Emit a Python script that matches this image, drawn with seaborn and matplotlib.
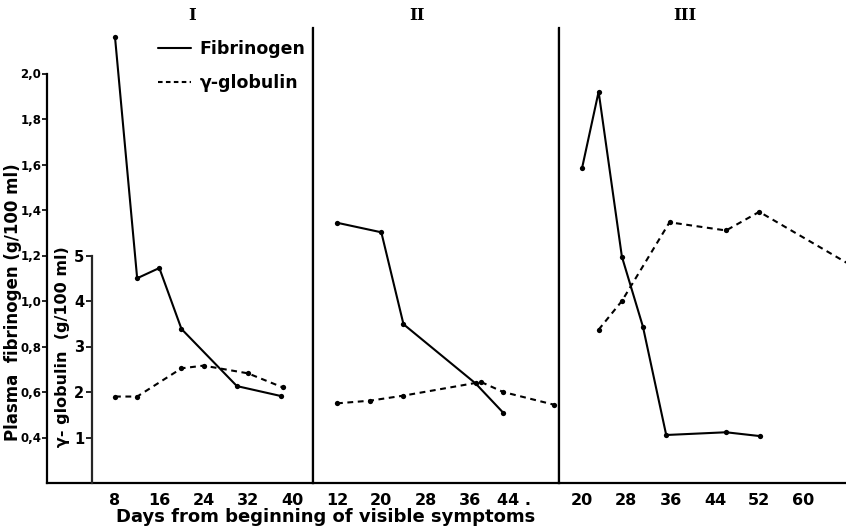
## fibrinogen and gamma-globulin over three cases ##

import matplotlib
matplotlib.use("Agg")
import matplotlib.pyplot as plt
from matplotlib.lines import Line2D
import seaborn as sns

# case I
days_fib_1 = [8, 12, 16, 20, 30, 38]
fib_1 = [2.16, 1.10, 1.145, 0.877, 0.626, 0.582]
days_gam_1 = [8, 12, 20, 24, 32, 38.3]
gam_1 = [1.90, 1.90, 2.52, 2.58, 2.41, 2.10]

# case II
days_fib_2 = [12, 20, 24, 37, 42]
fib_2 = [1.344, 1.302, 0.898, 0.638, 0.509]
days_gam_2 = [12, 18, 24, 38, 42, 51.2]
gam_2 = [1.75, 1.81, 1.92, 2.22, 2.00, 1.72]

# case III
days_fib_3 = [20, 23, 27.2, 31, 35.2, 46, 52.2]
fib_3 = [1.583, 1.92, 1.195, 0.887, 0.411, 0.423, 0.406]
days_gam_3 = [23, 27.2, 35.8, 46, 52, 72]
gam_3 = [3.37, 4.00, 5.73, 5.55, 5.96, 4.54]

panel_names = ["I", "II", "III"]
xticks_1 = [8, 16, 24, 32, 40]
xticks_2 = [12, 20, 28, 36, 44]
xticklabels_2 = ["12", "20", "28", "36", "44 ."]
xticks_3 = [20, 28, 36, 44, 52, 60]
fib_ticks = [0.4, 0.6, 0.8, 1.0, 1.2, 1.4, 1.6, 1.8, 2.0]
fib_labels = ["0,4", "0,6", "0,8", "1,0", "1,2", "1,4", "1,6", "1,8", "2,0"]
gam_ticks = [1, 2, 3, 4, 5]

sns.set_style("ticks")
plt.rcParams["font.family"] = ["DejaVu Sans"]
plt.rcParams["font.weight"] = "bold"
for k in ["text.color", "axes.labelcolor", "xtick.color", "ytick.color"]:
    plt.rcParams[k] = "black"

W, H = 846, 529
fig = plt.figure(figsize=(W / 100, H / 100), dpi=100)

px = 5.54  # pixels per day
bottom, top = 483, 28
def make_ax(left, right, anchor_day, anchor_px):
    ax = fig.add_axes([left / W, 1 - bottom / H, (right - left) / W, (bottom - top) / H])
    ax.set_xlim(anchor_day - (anchor_px - left) / px, anchor_day + (right - anchor_px) / px)
    ax.set_ylim(0.2, 2.2)
    ax.patch.set_alpha(0)
    for s in ["top", "right"]:
        ax.spines[s].set_visible(False)
    for s in ["left", "bottom"]:
        ax.spines[s].set_linewidth(1.6)
        ax.spines[s].set_color("black")
    ax.tick_params(axis="x", length=0, pad=7, labelsize=11.5)
    return ax

ax1 = make_ax(47, 313, 8, 115)
ax2 = make_ax(313, 559, 12, 337)
ax3 = make_ax(559, 900, 20, 582)

solid = dict(color="black", linewidth=1.5, marker="o", markersize=3.8, markeredgewidth=0)
dashed = dict(color="black", linewidth=1.5, marker="o", markersize=3.8, markeredgewidth=0,
              linestyle=(0, (2.8, 2.2)))

# panel I: fibrinogen axis on the left, gamma axis inside
ax1.spines["left"].set_bounds(0.2, 2.0)
ax1.set_yticks(fib_ticks)
ax1.set_yticklabels(fib_labels)
ax1.tick_params(axis="y", length=3.5, width=1.2, pad=0.5, labelsize=8.5)
ax1.set_xticks(xticks_1)
ax1.axvline(43.74, color="black", linewidth=1.6)

ax1g = ax1.twinx()
ax1g.set_ylim(0, 10)
ax1g.patch.set_alpha(0)
for s in ["top", "right", "bottom"]:
    ax1g.spines[s].set_visible(False)
ax1g.spines["left"].set_visible(True)
ax1g.spines["left"].set_position(("data", 3.8))
ax1g.spines["left"].set_bounds(0, 5)
ax1g.spines["left"].set_linewidth(1.6)
ax1g.yaxis.set_ticks_position("left")
ax1g.set_yticks(gam_ticks)
ax1g.tick_params(axis="y", length=4, width=1.2, pad=1.5, labelsize=10.5)

sns.lineplot(x=days_fib_1, y=fib_1, ax=ax1, **solid)
sns.lineplot(x=days_gam_1, y=gam_1, ax=ax1g, **dashed)

# panel II
ax2.set_yticks([])
ax2.set_xticks(xticks_2)
ax2.set_xticklabels(xticklabels_2)
ax2.axvline(52.07, color="black", linewidth=1.6)
ax2g = ax2.twinx()
ax2g.set_ylim(0, 10)
ax2g.axis("off")
sns.lineplot(x=days_fib_2, y=fib_2, ax=ax2, **solid)
sns.lineplot(x=days_gam_2, y=gam_2, ax=ax2g, **dashed)

# panel III
ax3.set_yticks([])
ax3.set_xticks(xticks_3)
ax3g = ax3.twinx()
ax3g.set_ylim(0, 10)
ax3g.axis("off")
sns.lineplot(x=days_fib_3, y=fib_3, ax=ax3, **solid)
sns.lineplot(x=days_gam_3, y=gam_3, ax=ax3g, **dashed)

for a in [ax1, ax2, ax3, ax1g, ax2g, ax3g]:
    a.set_xlabel("")
    a.set_ylabel("")

for name, xp in zip(panel_names, [192, 417, 685]):
    fig.text(xp / W, 1 - 16 / H, name, ha="center", va="center",
             family="DejaVu Serif", fontweight="bold", fontsize=12)

handles = [Line2D([], [], color="black", linewidth=1.5),
           Line2D([], [], color="black", linewidth=1.5, linestyle=(0, (2.2, 1.6)))]
fig.legend(handles, ["Fibrinogen", "γ-globulin"], loc="upper left",
           bbox_to_anchor=(158 / W, 1 - 40 / H), bbox_transform=fig.transFigure,
           frameon=False, fontsize=12.5, handlelength=1.9, handletextpad=0.5,
           labelspacing=0.95, borderpad=0, borderaxespad=0)

fig.text(13 / W, 1 - 302 / H, "Plasma  fibrinogen (g/100 ml)", rotation=90,
         ha="center", va="center", fontsize=12)
fig.text(62 / W, 1 - 347 / H, "γ- globulin  (g/100 ml)", rotation=90,
         ha="center", va="center", fontsize=11.5)
fig.text(326 / W, 1 - 517 / H, "Days from beginning of visible symptoms",
         ha="center", va="center", fontsize=13)

fig.savefig("out.png", dpi=100)
